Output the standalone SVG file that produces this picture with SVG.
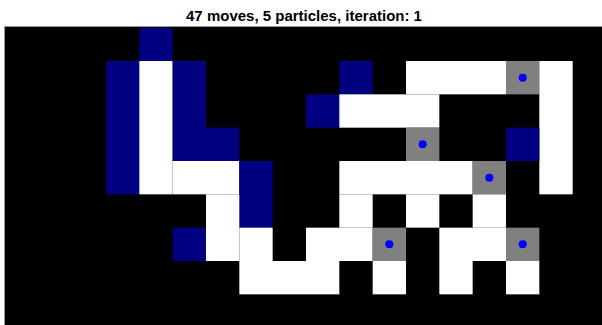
<svg xmlns="http://www.w3.org/2000/svg" width="602" height="325" viewBox="0 0 602 325">
<style>
.t{font-family:"Liberation Sans",Arial,sans-serif;font-weight:bold;font-size:15px;fill:#000}
.w{fill:#fff}.b{fill:#000080}.g{fill:#808080}.d{fill:#0000ff}
</style>
<rect width="602" height="325" fill="#fff"/>
<text x="304" y="21" text-anchor="middle" class="t">47 moves, 5 particles, iteration: 1</text>
<rect x="4.5" y="26.5" width="600" height="300" fill="#000" stroke="#9a9a9a" stroke-width="1"/>
<g transform="translate(6,27.67) scale(33.333)">
<rect class="b" x="4" y="0" width="1" height="1"/>
<rect class="b" x="3" y="1" width="1" height="4"/>
<rect class="w" x="4" y="1" width="1" height="4"/>
<rect class="b" x="5" y="1" width="1" height="3"/>
<rect class="b" x="6" y="3" width="1" height="1"/>
<rect class="w" x="5" y="4" width="2" height="1"/>
<rect class="b" x="7" y="4" width="1" height="2"/>
<rect class="w" x="6" y="5" width="1" height="2"/>
<rect class="b" x="5" y="6" width="1" height="1"/>
<rect class="w" x="7" y="6" width="1" height="1"/>
<rect class="w" x="7" y="7" width="3" height="1"/>
<rect class="w" x="9" y="6" width="2" height="1"/>
<rect class="b" x="10" y="1" width="1" height="1"/>
<rect class="b" x="9" y="2" width="1" height="1"/>
<rect class="w" x="10" y="2" width="3" height="1"/>
<rect class="w" x="12" y="1" width="3" height="1"/>
<rect class="g" x="15" y="1" width="1" height="1"/>
<rect class="w" x="16" y="1" width="1" height="4"/>
<rect class="g" x="12" y="3" width="1" height="1"/>
<rect class="b" x="15" y="3" width="1" height="1"/>
<rect class="w" x="10" y="4" width="4" height="1"/>
<rect class="g" x="14" y="4" width="1" height="1"/>
<rect class="w" x="10" y="5" width="1" height="1"/>
<rect class="w" x="12" y="5" width="1" height="1"/>
<rect class="w" x="14" y="5" width="1" height="1"/>
<rect class="g" x="11" y="6" width="1" height="1"/>
<rect class="w" x="13" y="6" width="2" height="1"/>
<rect class="g" x="15" y="6" width="1" height="1"/>
<rect class="w" x="11" y="7" width="1" height="1"/>
<rect class="w" x="13" y="7" width="1" height="1"/>
<rect class="w" x="15" y="7" width="1" height="1"/>
<circle class="d" cx="15.5" cy="1.5" r="0.12"/>
<circle class="d" cx="12.5" cy="3.5" r="0.12"/>
<circle class="d" cx="14.5" cy="4.5" r="0.12"/>
<circle class="d" cx="11.5" cy="6.5" r="0.12"/>
<circle class="d" cx="15.5" cy="6.5" r="0.12"/>
</g>
</svg>
